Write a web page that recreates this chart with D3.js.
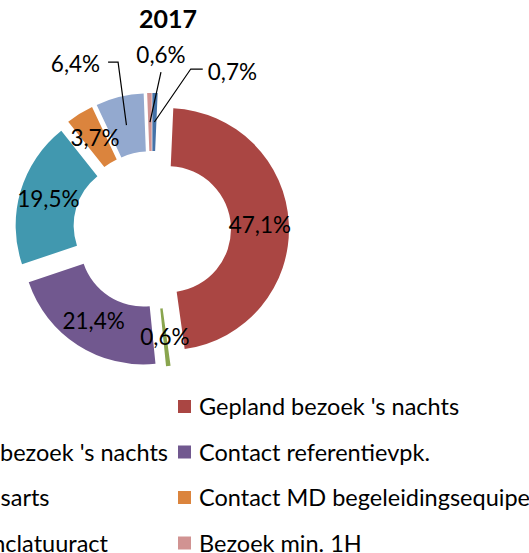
<!DOCTYPE html>
<html>
<head>
<meta charset="utf-8">
<script src="https://cdn.jsdelivr.net/npm/d3@7"></script>
<style>
  html, body { margin: 0; padding: 0; background: #fff; overflow: hidden; }
  svg { display: block; font-family: Lato, "Open Sans", sans-serif; }
</style>
</head>
<body>
<script>
// gegevens (aandeel per soort contact, 2017)
var title = "2017";
var categories = [
  "Telefoon",
  "Gepland bezoek 's nachts",
  "Ongepland bezoek 's nachts",
  "Contact referentievpk.",
  "Contact huisarts",
  "Contact MD begeleidingsequipe",
  "Niet-nomenclatuuract",
  "Bezoek min. 1H"
];
var values = [0.7, 47.1, 0.6, 21.4, 19.5, 3.7, 6.4, 0.6];
var colors = ["#4572A7", "#AA4643", "#89A54E", "#71588F", "#4198AF", "#DB843D", "#93A9CF", "#D19392"];

// afmetingen
var w = 529, h = 553;
var cx = 152, cy = 230;
var outerR = 121, innerR = 63;
var explode = 16;
var fontSize = "22.5px";
var legendFont = "23.5px";

// labels buiten de ring (index -> verschuiving t.o.v. zwaartepunt)
var outsideLabels = {
  0: { dx: 78, dy: -50, hook: "left" },
  6: { dx: -51, dy: -61, hook: "right" },
  7: { dx: 11, dy: -67, hook: "bottom" }
};

var fmt = function (v) {
  return v.toFixed(1).replace(".", ",") + "%";
};

var svg = d3.select("body").append("svg").attr("width", w).attr("height", h);

// titel
svg.append("text")
  .attr("x", 168)
  .attr("y", 28)
  .attr("text-anchor", "middle")
  .attr("font-size", "25px")
  .attr("font-weight", "bold")
  .text(title);

var pie = d3.pie().sort(null).value(function (d) { return d; });
var arcs = pie(values);

var arc = d3.arc().innerRadius(innerR).outerRadius(outerR);
var midArc = d3.arc().innerRadius((innerR + outerR) / 2).outerRadius((innerR + outerR) / 2);

function offset(d) {
  var a = (d.startAngle + d.endAngle) / 2;
  return [explode * Math.sin(a), -explode * Math.cos(a)];
}

var g = svg.append("g").attr("transform", "translate(" + cx + "," + cy + ")");

g.selectAll(".slice")
  .data(arcs)
  .enter()
  .append("path")
  .attr("class", "slice")
  .attr("d", arc)
  .attr("fill", function (d, i) { return colors[i]; })
  .attr("transform", function (d) {
    var o = offset(d);
    return "translate(" + o[0] + "," + o[1] + ")";
  });

// labels
arcs.forEach(function (d, i) {
  var o = offset(d);
  var c = midArc.centroid(d);
  var px = c[0] + o[0], py = c[1] + o[1];
  var lab = outsideLabels[i];
  if (!lab) {
    g.append("text")
      .attr("x", px)
      .attr("y", py)
      .attr("text-anchor", "middle")
      .attr("dy", "0.35em")
      .attr("font-size", fontSize)
      .text(fmt(values[i]));
    return;
  }
  var lx = px + lab.dx, ly = py + lab.dy;
  var t = g.append("text")
    .attr("x", lx)
    .attr("y", ly)
    .attr("text-anchor", "middle")
    .attr("dy", "0.35em")
    .attr("font-size", fontSize)
    .text(fmt(values[i]));
  var tw = t.node().getComputedTextLength();
  var pts;
  if (lab.hook === "left") {
    pts = [[lx - tw / 2 - 5, ly - 3], [lx - tw / 2 - 17, ly - 3], [px, py]];
  } else if (lab.hook === "right") {
    pts = [[lx + tw / 2 + 8, ly - 2], [lx + tw / 2 + 18, ly - 2], [px, py]];
  } else {
    pts = [[lx, ly + 17], [px, py]];
  }
  g.append("path")
    .attr("d", d3.line()(pts))
    .attr("fill", "none")
    .attr("stroke", "#000")
    .attr("stroke-width", 1.2);
});

// legenda (twee kolommen, rij per rij)
var legY0 = 407, legStep = 45.5;
var legend = svg.append("g").attr("class", "legend");
var legX = [0, 178];
categories.forEach(function (name, i) {
  var col = i % 2, row = Math.floor(i / 2);
  var y = legY0 + row * legStep;
  var rect = legend.append("rect")
    .attr("y", y - 7)
    .attr("width", 13)
    .attr("height", 13)
    .attr("fill", colors[i]);
  var t = legend.append("text")
    .attr("y", y)
    .attr("dy", "0.35em")
    .attr("font-size", legendFont)
    .text(name);
  if (i === 2) {
    // linkerkolom zo plaatsen dat deze tekst eindigt waar de rechterkolom begint
    legX[0] = legX[1] - 10 - t.node().getComputedTextLength() - 21;
  }
  rect.attr("class", "m" + col);
  t.attr("class", "t" + col);
});
legend.selectAll("rect").attr("x", function () {
  return this.getAttribute("class") === "m0" ? legX[0] : legX[1];
});
legend.selectAll("text").attr("x", function () {
  return (this.getAttribute("class") === "t0" ? legX[0] : legX[1]) + 21;
});
</script>
</body>
</html>
